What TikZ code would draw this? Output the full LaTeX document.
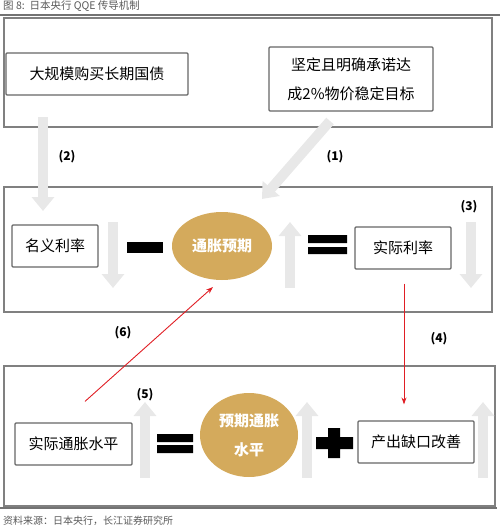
\documentclass[tikz,border=0pt]{standalone}
\usepackage{fontspec}
\setmainfont{Noto Sans CJK SC}
\usetikzlibrary{arrows.meta,shapes.geometric}
\definecolor{gold}{RGB}{212,170,92}
\definecolor{redline}{RGB}{224,30,36}
\definecolor{fatgray}{RGB}{232,232,232}
\tikzset{
  box/.style={draw=black!60,line width=1.2pt,rounded corners=1pt,minimum height=42pt,inner sep=0pt,
    font=\fontsize{15}{29}\selectfont,align=center},
  egg/.style={ellipse,fill=gold,text=white,inner sep=0pt,font=\fontsize{15}{29}\selectfont\bfseries,align=center},
  frame/.style={draw=black!50,line width=1.2pt},
  fat/.style={line width=10pt,fatgray,-{Triangle[width=22pt,length=14pt]}},
  num/.style={font=\fontsize{12}{14}\selectfont\bfseries},
  redarr/.style={redline,line width=0.9pt,-{Stealth[length=7pt,width=5pt]}}
}
\begin{document}
\begin{tikzpicture}[x=1pt,y=-1pt]
\useasboundingbox (0,0) rectangle (500,531);
% title and rules
\node[anchor=west,text=black!65,font=\fontsize{10.5}{12}\selectfont,inner sep=0pt] (title) at (3,6) {图 8:\ \ 日本央行 QQE 传导机制};
\draw[black!55,line width=1.5pt] (0,15)--(500,15);
\draw[black!55,line width=1.5pt] (0,508)--(497,508);
\node[anchor=west,text=black!65,font=\fontsize{10}{12}\selectfont,inner sep=0pt] (source) at (3,521) {资料来源：日本央行，长江证券研究所};
% frames
\draw[frame] (4,18) rectangle (492,127);
\draw[frame] (4,187) rectangle (492,312);
\draw[frame] (4,366) rectangle (495,506);
% fat gray arrows
\draw[fat] (43,117)--(43,211);
\draw[fat] (330,121)--(262,199);
\foreach \x in {113,471} {\draw[fat] (\x,222)--(\x,288);}
\draw[fat] (290,288)--(290,222);
\foreach \x in {145,307,483} {\draw[fat] (\x,478)--(\x,402);}
% top row
\node[box,minimum width=182pt] (buy) at (97,74) {大规模购买长期国债};
\node[box,minimum width=164pt,minimum height=64pt] (goal) at (351,79) {坚定且明确承诺达\\成2\%物价稳定目标};
% middle row
\node[box,minimum width=86pt] (nominal) at (55,246) {名义利率};
\node[egg,minimum width=100pt,minimum height=68pt] (expect) at (222,246) {通胀预期};
\node[box,minimum width=96pt] (real) at (403,248) {实际利率};
\fill (127,242) rectangle (163,253);
\fill (308,235) rectangle (347,243) (308,247) rectangle (347,254);
% bottom row
\node[box,minimum width=117pt] (actual) at (73.5,444) {实际通胀水平};
\node[egg,minimum width=98pt,minimum height=84pt] (level) at (249,435) {预期通胀\\水平};
\node[box,minimum width=116pt] (gap) at (416,442) {产出缺口改善};
\fill (157,434) rectangle (193,442) (157,445) rectangle (193,453);
\fill (316,437) rectangle (353,449) (328,428) rectangle (340,458);
% red links
\coordinate (realout) at ([xshift=1pt,yshift=-14pt]real.south);
\coordinate (gapin) at ([xshift=-12pt,yshift=16pt]gap.north);
\coordinate (actualout) at ([xshift=11.5pt,yshift=21pt]actual.north);
\draw[redarr] (realout)--(gapin);
\draw[redarr] (actualout)--(213,287);
% step numbers
\foreach \x/\y/\t in {335/157/1,67/157/2,469/207/3,439/339/4,145/395/5,123/333/6} {\node[num] at (\x,\y) {(\t)};}
\end{tikzpicture}
\end{document}
